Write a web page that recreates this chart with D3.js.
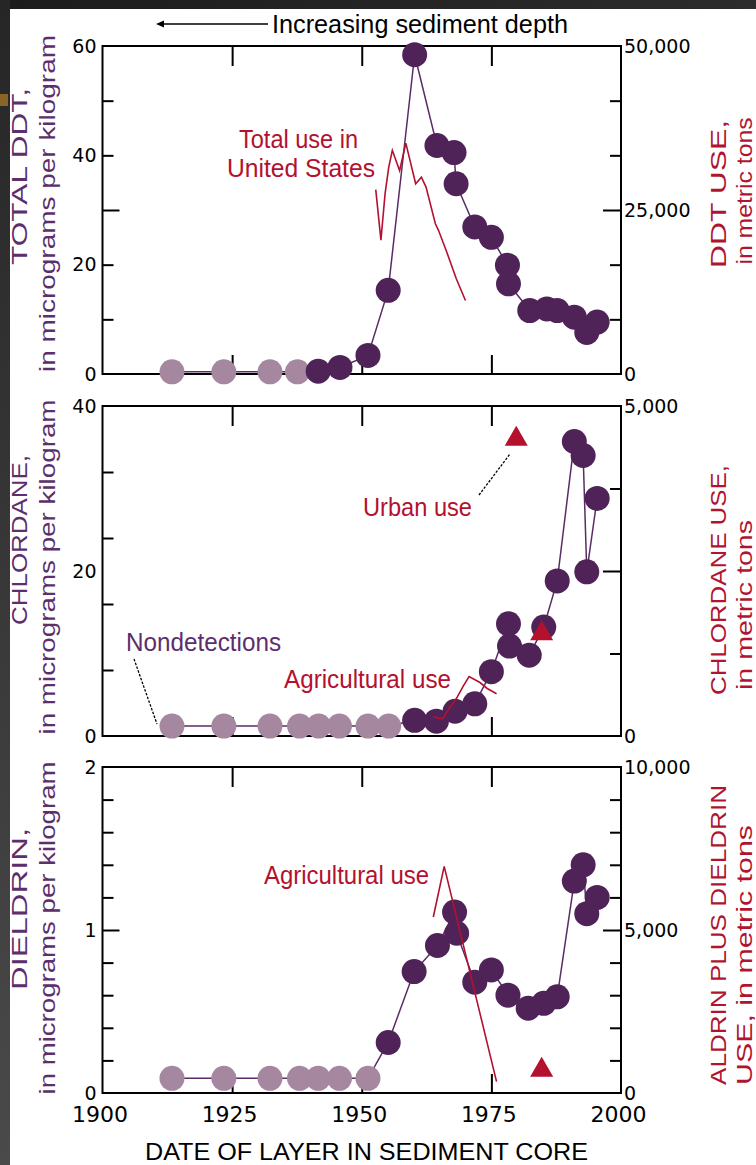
<!DOCTYPE html>
<html><head><meta charset="utf-8">
<script src="https://cdn.jsdelivr.net/npm/d3@7"></script>
<style>body{margin:0;background:#fff}svg{display:block}</style>
</head><body>
<svg id="c" width="756" height="1165"></svg>
<script>
// ---------------- DATA ----------------
const xLabelYears = [1900, 1925, 1950, 1975, 2000];
const xInnerTickYears = [1925, 1950, 1975];

// Panel 1: Total DDT (left, ug/kg) and DDT use (right, metric tons)
const ddtYears    = [1913.4, 1923.4, 1932.3, 1937.6, 1941.6, 1945.8, 1951.2, 1955.1, 1960.2, 1964.5, 1967.8, 1968.2, 1971.8, 1975.0, 1978.1, 1978.3, 1982.4, 1985.7, 1987.7, 1991.0, 1993.4, 1995.4];
const ddtValues   = [0.4, 0.4, 0.4, 0.4, 0.5, 1.2, 3.4, 15.3, 58.4, 41.8, 40.5, 34.8, 26.9, 25.0, 19.9, 16.5, 11.6, 11.9, 11.6, 10.4, 7.6, 9.5];
const ddtDetected = [0, 0, 0, 0, 1, 1, 1, 1, 1, 1, 1, 1, 1, 1, 1, 1, 1, 1, 1, 1, 1, 1];
const ddtUseYears  = [1952.7, 1953.7, 1954.5, 1955.2, 1955.9, 1957.3, 1958.5, 1960.4, 1961.5, 1962.4, 1964.2, 1964.8, 1966.3, 1968.2, 1970.0];
const ddtUseValues = [28100, 20400, 27500, 31500, 34100, 31000, 35200, 29000, 30000, 28500, 22900, 21900, 18800, 14600, 11200];
const ddtLeftLabels  = [0, 20, 40, 60];
const ddtRightLabels = [0, 25000, 50000];

// Panel 2: Chlordane
const chlYears    = [1913.4, 1923.4, 1932.3, 1938.0, 1941.7, 1945.7, 1951.2, 1955.2, 1960.2, 1964.4, 1968.0, 1971.8, 1975.0, 1978.3, 1978.5, 1982.3, 1985.1, 1987.7, 1991.0, 1992.7, 1993.4, 1995.4];
const chlValues   = [1.2, 1.2, 1.2, 1.2, 1.2, 1.2, 1.2, 1.2, 1.9, 1.8, 3.0, 3.9, 7.8, 13.6, 10.9, 9.8, 13.2, 18.8, 35.7, 34.0, 19.9, 28.8];
const chlDetected = [0, 0, 0, 0, 0, 0, 0, 0, 1, 1, 1, 1, 1, 1, 1, 1, 1, 1, 1, 1, 1, 1];
const chlAgYears  = [1963.8, 1965.6, 1966.7, 1968.2, 1969.6, 1970.7, 1972.8, 1974.2, 1976.0];
const chlAgValues = [290, 260, 400, 560, 760, 900, 810, 720, 640];
const chlUrbanYears  = [1979.8, 1984.7];
const chlUrbanValues = [4500, 1550];
const chlLeftLabels  = [0, 20, 40];
const chlRightLabels = [0, 5000];

// Panel 3: Dieldrin
const dieYears    = [1913.4, 1923.4, 1932.3, 1938.0, 1941.6, 1945.7, 1951.2, 1955.1, 1960.1, 1964.6, 1967.9, 1968.3, 1971.8, 1975.0, 1978.2, 1982.1, 1985.1, 1987.7, 1991.0, 1992.7, 1993.4, 1995.4];
const dieValues   = [0.09, 0.09, 0.09, 0.09, 0.09, 0.09, 0.09, 0.31, 0.745, 0.905, 1.11, 0.98, 0.68, 0.755, 0.60, 0.52, 0.55, 0.59, 1.30, 1.40, 1.10, 1.20];
const dieDetected = [0, 0, 0, 0, 0, 0, 0, 1, 1, 1, 1, 1, 1, 1, 1, 1, 1, 1, 1, 1, 1, 1];
const dieAgYears  = [1963.8, 1965.9, 1976.0];
const dieAgValues = [5400, 6950, 350];
const dieUrbanYears  = [1984.7];
const dieUrbanValues = [700];
const dieLeftLabels  = [0, 1, 2];
const dieRightLabels = [0, 5000, 10000];

// ---------------- STYLE / LAYOUT ----------------
const DARK = "#4f2358", LIGHT = "#a5879f", LINE = "#5a2c66", RED = "#b3112e";
const TITLE_PURPLE = "#5c2e6c", TITLE_RED = "#b0142f";
const X0 = 102.5, X1 = 621;
const svg = d3.select("#c");

// background frame artefacts
const defs = svg.append("defs");
const gTop = defs.append("linearGradient").attr("id","gt").attr("x1",0).attr("x2",1).attr("y1",0).attr("y2",0);
gTop.append("stop").attr("offset","0%").attr("stop-color","#1c1c1c");
gTop.append("stop").attr("offset","100%").attr("stop-color","#2c2c2c");
const gLeft = defs.append("linearGradient").attr("id","gl").attr("x1",0).attr("x2",0).attr("y1",0).attr("y2",1);
gLeft.append("stop").attr("offset","0%").attr("stop-color","#262626");
gLeft.append("stop").attr("offset","100%").attr("stop-color","#4a4a4a");
svg.append("rect").attr("width",756).attr("height",1165).attr("fill","#fff");
svg.append("rect").attr("x",0).attr("y",0).attr("width",756).attr("height",9).attr("fill","url(#gt)");
svg.append("rect").attr("x",0).attr("y",0).attr("width",10).attr("height",1165).attr("fill","url(#gl)");
svg.append("rect").attr("x",0).attr("y",94).attr("width",8).attr("height",12).attr("fill","#8a6426");

const x = d3.scaleLinear().domain([1900, 2000]).range([X0, X1]);

function label(g, txt, px, py, len, opts) {
  const t = g.append("text").attr("x", px).attr("y", py).text(txt)
    .attr("font-family", opts.family || "Liberation Sans, Arial, sans-serif")
    .attr("font-size", opts.size || 22)
    .attr("fill", opts.fill || "#000")
    .attr("text-anchor", opts.anchor || "start");
  if (len) t.attr("textLength", len).attr("lengthAdjust", "spacingAndGlyphs");
  if (opts.rotate) t.attr("transform", `rotate(-90,${px},${py})`);
  return t;
}

function panel(c) {
  const g = svg.append("g");
  const y  = d3.scaleLinear().domain([0, c.leftMax]).range([c.bottom, c.top]);
  const y2 = d3.scaleLinear().domain([0, c.rightMax]).range([c.bottom, c.top]);

  // inner ticks on the left and right edges
  const tl = g.append("g").attr("transform", `translate(${X0},0)`)
    .call(d3.axisRight(y).tickValues(c.leftMinor).tickSize(11).tickFormat(""));
  tl.selectAll(".tick line").attr("stroke-width", 2).attr("x2", d => Math.abs(d - c.leftLong) < 1e-9 ? 17 : 11);
  tl.select(".domain").remove();
  const tr = g.append("g").attr("transform", `translate(${X1},0)`)
    .call(d3.axisLeft(y2).tickValues(c.rightMinor).tickSize(11).tickFormat(""));
  tr.selectAll(".tick line").attr("stroke-width", 2).attr("x2", d => Math.abs(d - c.rightLong) < 1e-9 ? -18 : -11);
  tr.select(".domain").remove();
  // inner ticks on top and bottom edges
  const tt = g.append("g").attr("transform", `translate(0,${c.top})`)
    .call(d3.axisBottom(x).tickValues(xInnerTickYears).tickSize(20).tickFormat(""));
  tt.selectAll(".tick line").attr("stroke-width", 2);
  tt.select(".domain").remove();
  const tb = g.append("g").attr("transform", `translate(0,${c.bottom})`)
    .call(d3.axisTop(x).tickValues(xInnerTickYears).tickSize(19).tickFormat(""));
  tb.selectAll(".tick line").attr("stroke-width", 2);
  tb.select(".domain").remove();

  // frame
  g.append("rect").attr("x", X0).attr("y", c.top).attr("width", X1 - X0).attr("height", c.bottom - c.top)
    .attr("fill", "none").attr("stroke", "#000").attr("stroke-width", 2);

  // tick labels
  const la = g.append("g").attr("transform", `translate(${X0},0)`)
    .call(d3.axisLeft(y).tickValues(c.leftLabels).tickSize(0).tickPadding(6).tickFormat(d3.format("d")));
  la.select(".domain").remove();
  la.selectAll("text").attr("font-family", "DejaVu Sans, sans-serif").attr("font-size", 19).attr("fill", "#000");
  const ra = g.append("g").attr("transform", `translate(${X1},0)`)
    .call(d3.axisRight(y2).tickValues(c.rightLabels).tickSize(0).tickPadding(3).tickFormat(d3.format(",")));
  ra.select(".domain").remove();
  ra.selectAll("text").attr("font-family", "DejaVu Sans, sans-serif").attr("font-size", 19).attr("fill", "#000");

  // data line + circles
  const pts = c.years.map((yr, i) => ({yr, v: c.values[i], det: c.detected[i]}));
  g.append("path").datum(pts)
    .attr("d", d3.line().x(d => x(d.yr)).y(d => y(d.v)))
    .attr("fill", "none").attr("stroke", LINE).attr("stroke-width", 1.5);
  g.selectAll("circle.pt").data(pts).join("circle")
    .attr("cx", d => x(d.yr)).attr("cy", d => y(d.v)).attr("r", 12.5)
    .attr("fill", d => d.det ? DARK : LIGHT);

  // use line(s)
  if (c.useYears) {
    const u = c.useYears.map((yr, i) => ({yr, v: c.useValues[i]}));
    g.append("path").datum(u)
      .attr("d", d3.line().x(d => x(d.yr)).y(d => y2(d.v)))
      .attr("fill", "none").attr("stroke", RED).attr("stroke-width", 1.6);
  }
  if (c.triYears) {
    const t = c.triYears.map((yr, i) => ({yr, v: c.triValues[i]}));
    g.selectAll("path.tri").data(t).join("path")
      .attr("transform", d => `translate(${x(d.yr)},${y2(d.v)})`)
      .attr("d", d3.symbol(d3.symbolTriangle, 230))
      .attr("fill", RED);
  }
  return g;
}

panel({top: 46, bottom: 374, leftMax: 60, rightMax: 50000,
  leftMinor: [10, 20, 30, 40, 50], leftLong: 30,
  rightMinor: [25000/3, 50000/3, 25000, 100000/3, 125000/3], rightLong: 25000,
  leftLabels: ddtLeftLabels, rightLabels: ddtRightLabels,
  years: ddtYears, values: ddtValues, detected: ddtDetected,
  useYears: ddtUseYears, useValues: ddtUseValues});

panel({top: 406, bottom: 736, leftMax: 40, rightMax: 5000,
  leftMinor: [8, 16, 24, 32], leftLong: -1,
  rightMinor: [1250, 2500, 3750], rightLong: 2500,
  leftLabels: chlLeftLabels, rightLabels: chlRightLabels,
  years: chlYears, values: chlValues, detected: chlDetected,
  useYears: chlAgYears, useValues: chlAgValues,
  triYears: chlUrbanYears, triValues: chlUrbanValues});

panel({top: 767, bottom: 1093, leftMax: 2, rightMax: 10000,
  leftMinor: [0.2, 0.4, 0.6, 0.8, 1.0, 1.2, 1.4, 1.6, 1.8], leftLong: 1.0,
  rightMinor: [1000, 2000, 3000, 4000, 5000, 6000, 7000, 8000, 9000], rightLong: 5000,
  leftLabels: dieLeftLabels, rightLabels: dieRightLabels,
  years: dieYears, values: dieValues, detected: dieDetected,
  useYears: dieAgYears, useValues: dieAgValues,
  triYears: dieUrbanYears, triValues: dieUrbanValues});

// x-axis labels (bottom panel)
const xa = svg.append("g").attr("transform", `translate(-3,1093)`)
  .call(d3.axisBottom(x).tickValues(xLabelYears).tickSize(0).tickPadding(13).tickFormat(d3.format("d")));
xa.select(".domain").remove();
xa.selectAll("text").attr("font-family", "DejaVu Sans, sans-serif").attr("font-size", 22).attr("fill", "#000");

// ---------------- TEXT ----------------
const T = svg.append("g");
const NARROW = "Liberation Sans Narrow, Liberation Sans, Arial, sans-serif";
// top arrow + caption
T.append("line").attr("x1", 162).attr("x2", 268).attr("y1", 24).attr("y2", 24).attr("stroke", "#000").attr("stroke-width", 1.5);
T.append("path").attr("d", "M156,24 L164,20.5 L164,27.5 Z").attr("fill", "#000");
label(T, "Increasing sediment depth", 272, 33, 296, {size: 25, family: NARROW});
// bottom title
label(T, "DATE OF LAYER IN SEDIMENT CORE", 145, 1160, 443, {size: 24, family: NARROW});

// left titles (rotated)
label(T, "TOTAL DDT,", 27, 176.5, 177, {size: 22, family: NARROW, fill: TITLE_PURPLE, anchor: "middle", rotate: true});
label(T, "in micrograms per kilogram", 55, 203.5, 337, {size: 22, family: NARROW, fill: TITLE_PURPLE, anchor: "middle", rotate: true});
label(T, "CHLORDANE,", 27, 540, 170, {size: 22, family: NARROW, fill: TITLE_PURPLE, anchor: "middle", rotate: true});
label(T, "in micrograms per kilogram", 55, 567, 335, {size: 22, family: NARROW, fill: TITLE_PURPLE, anchor: "middle", rotate: true});
label(T, "DIELDRIN,", 27, 909, 162, {size: 22, family: NARROW, fill: TITLE_PURPLE, anchor: "middle", rotate: true});
label(T, "in micrograms per kilogram", 55, 928, 333, {size: 22, family: NARROW, fill: TITLE_PURPLE, anchor: "middle", rotate: true});

// right titles (rotated)
label(T, "DDT USE,", 726, 194, 148, {size: 22, family: NARROW, fill: TITLE_RED, anchor: "middle", rotate: true});
label(T, "in metric tons", 752, 191, 147, {size: 22, family: NARROW, fill: TITLE_RED, anchor: "middle", rotate: true});
label(T, "CHLORDANE USE,", 726, 580, 230, {size: 22, family: NARROW, fill: TITLE_RED, anchor: "middle", rotate: true});
label(T, "in metric tons", 752, 605, 170, {size: 22, family: NARROW, fill: TITLE_RED, anchor: "middle", rotate: true});
label(T, "ALDRIN PLUS DIELDRIN", 726, 935, 300, {size: 22, family: NARROW, fill: TITLE_RED, anchor: "middle", rotate: true});
label(T, "USE, in metric tons", 752, 955, 260, {size: 22, family: NARROW, fill: TITLE_RED, anchor: "middle", rotate: true});

// annotations
label(T, "Total use in", 239, 148, 119, {size: 25, family: NARROW, fill: RED});
label(T, "United States", 227, 177, 148, {size: 25, family: NARROW, fill: RED});
label(T, "Urban use", 363, 516, 109, {size: 25, family: NARROW, fill: RED});
label(T, "Nondetections", 126, 651, 155, {size: 25, family: NARROW, fill: TITLE_PURPLE});
label(T, "Agricultural use", 284, 688, 167, {size: 25, family: NARROW, fill: RED});
label(T, "Agricultural use", 264, 884, 165, {size: 25, family: NARROW, fill: RED});
// leader lines
T.append("line").attr("x1", 479).attr("y1", 495).attr("x2", 510).attr("y2", 454)
  .attr("stroke", "#000").attr("stroke-width", 1.3).attr("stroke-dasharray", "2.5,1.5");
T.append("line").attr("x1", 134).attr("y1", 659).attr("x2", 157).attr("y2", 724)
  .attr("stroke", "#000").attr("stroke-width", 1.3).attr("stroke-dasharray", "2.5,1.5");
</script>
</body></html>
